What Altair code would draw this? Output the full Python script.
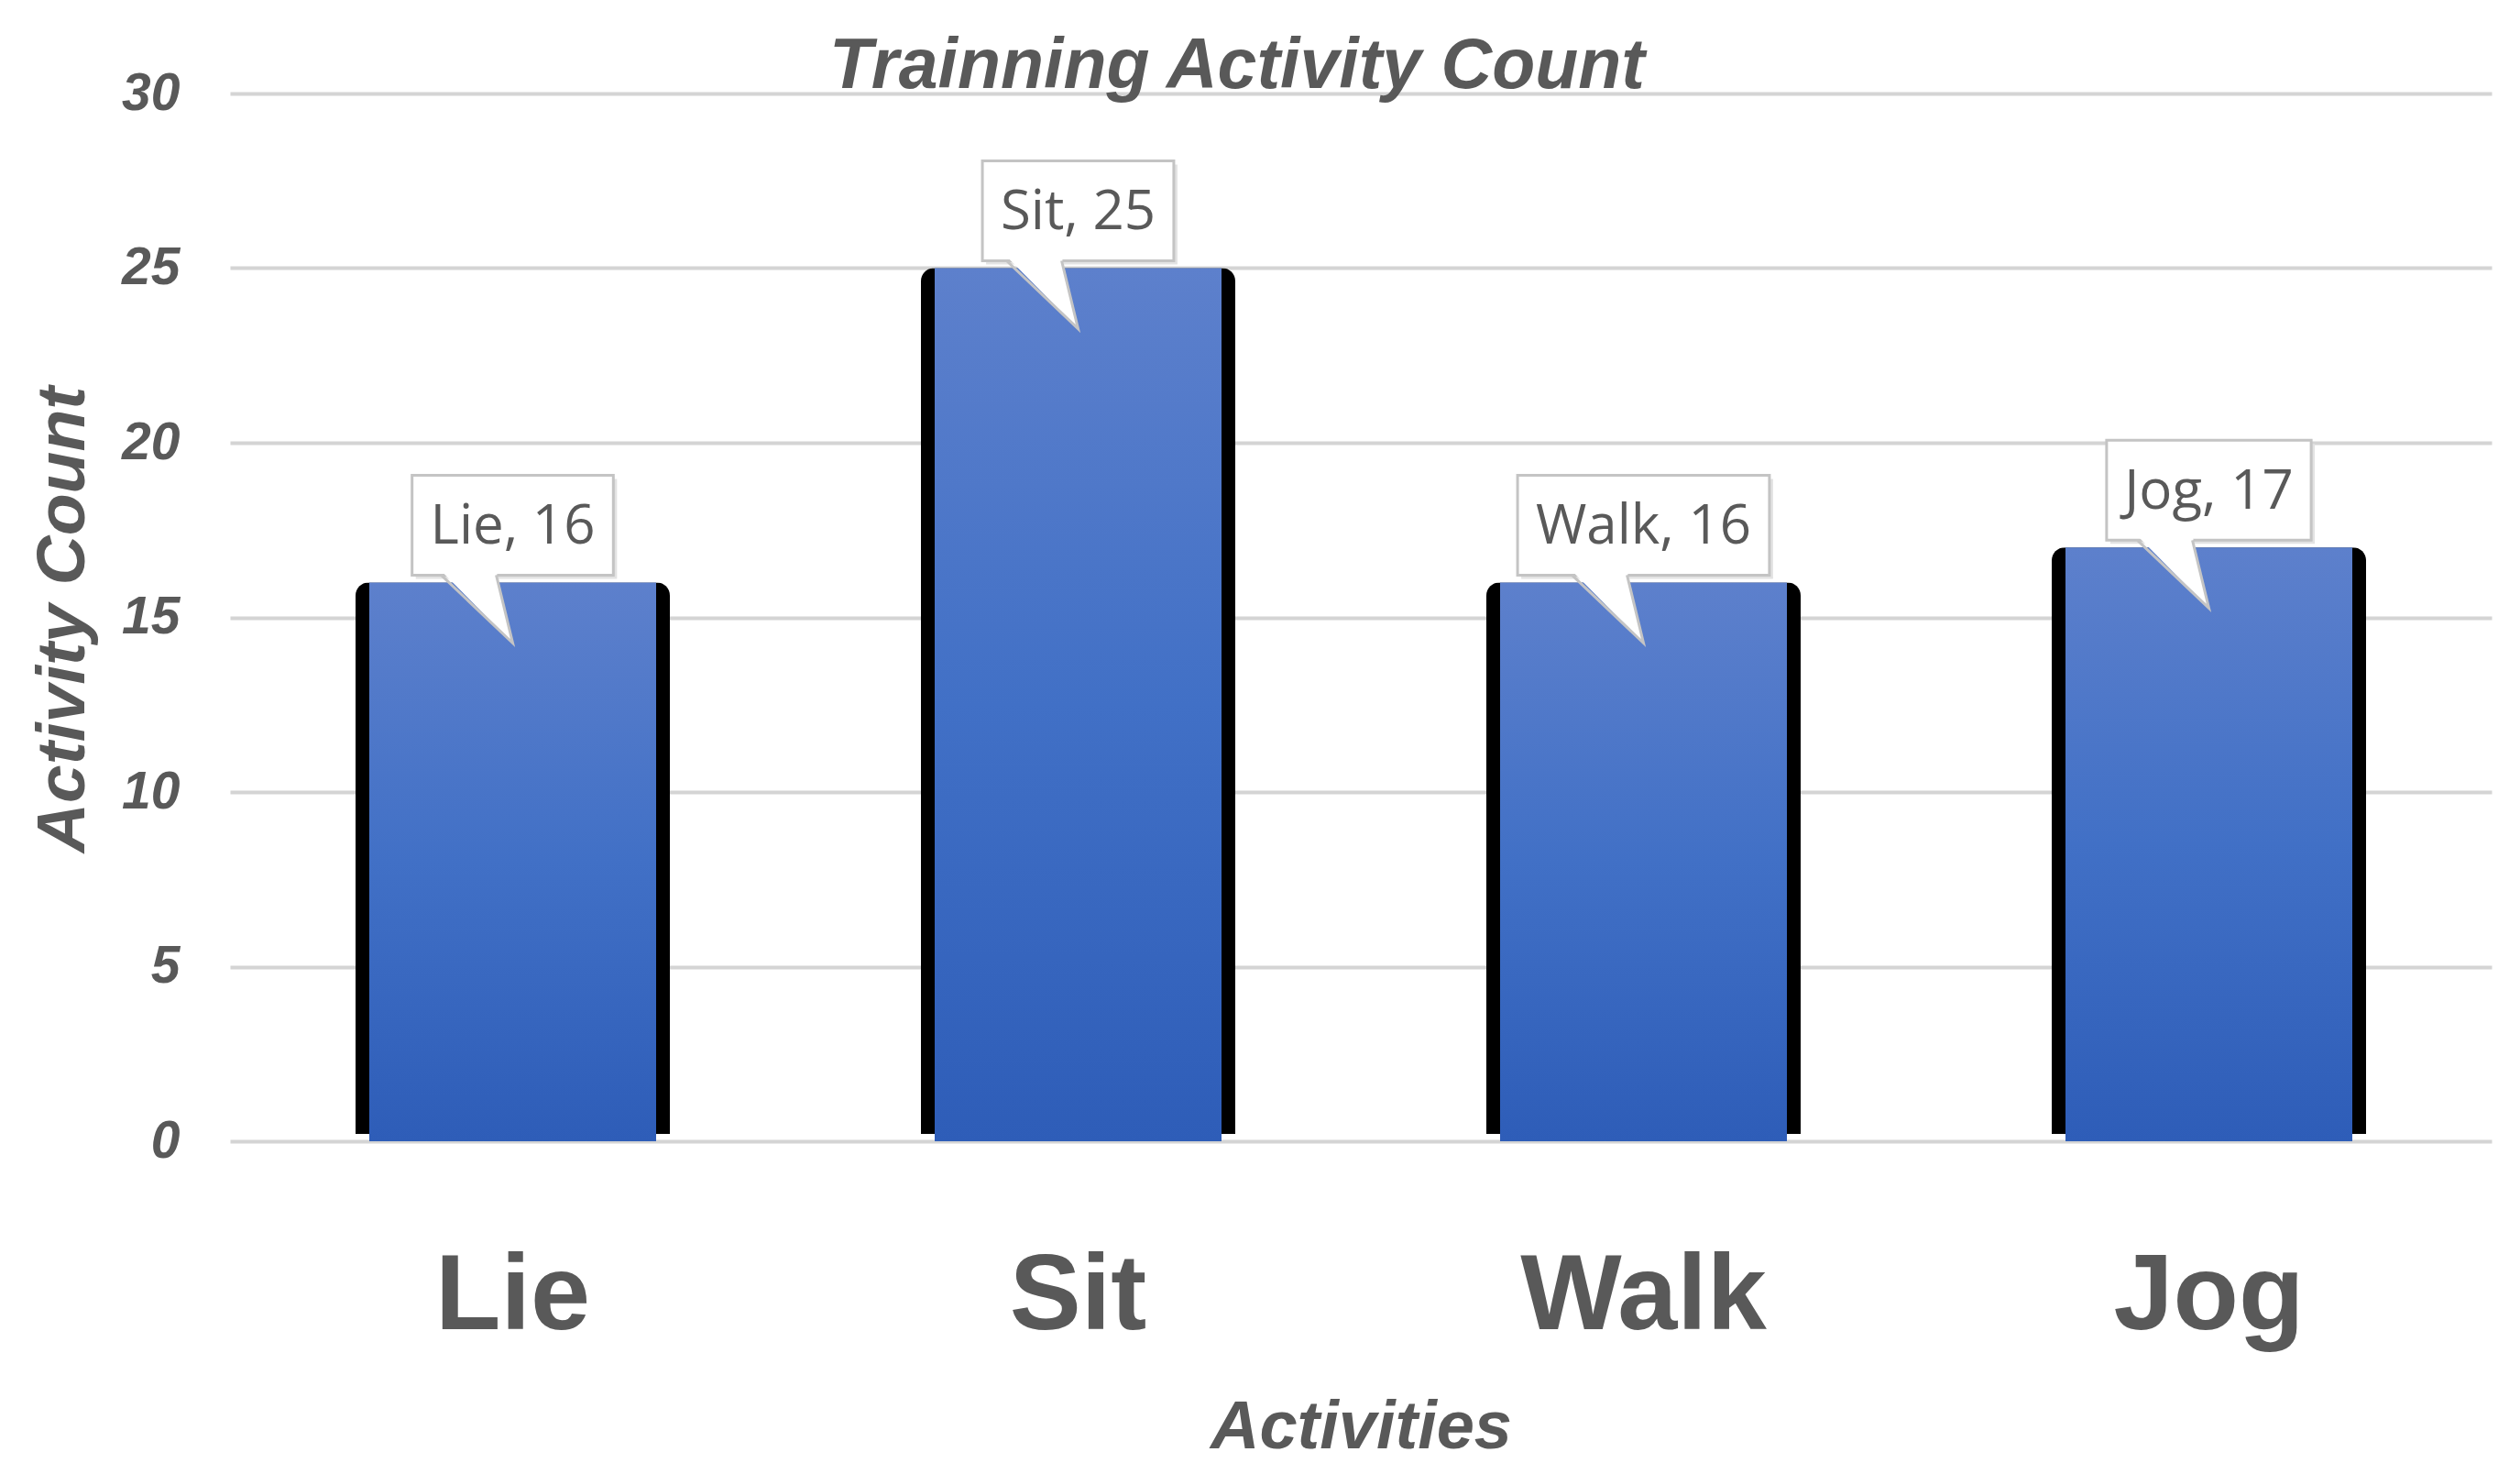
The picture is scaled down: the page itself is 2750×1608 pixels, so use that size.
import altair as alt
import pandas as pd

# ---- data ----
activities = ["Lie", "Sit", "Walk", "Jog"]
counts = [16, 25, 16, 17]
y_ticks = [0, 5, 10, 15, 20, 25, 30]

title_text = "Trainning Activity Count"
x_title = "Activities"
y_title = "Activity Count"

# approximate advance widths (em) for the callout font, used to size the callout boxes
CHAR_W = {
    "L": 0.52, "i": 0.26, "e": 0.56, ",": 0.25, " ": 0.26, "S": 0.55, "t": 0.35,
    "W": 0.93, "a": 0.56, "l": 0.26, "k": 0.51, "J": 0.27, "o": 0.60, "g": 0.53,
}
LABEL_FS = 60


def text_width(s, fs):
    return sum(CHAR_W.get(c, 0.572) for c in s) * fs


labels = [f"{a}, {c}" for a, c in zip(activities, counts)]
df = pd.DataFrame({
    "activity": activities,
    "count": counts,
    "label": labels,
    "boxw": [text_width(s, LABEL_FS) + 40 for s in labels],
})

GRAY = "#595959"
PLOT_W, PLOT_H = 2468, 1143
BAR_W = 313
BOX_GAP = 8
BOX_H = 109

x_enc = alt.X(
    "activity:N",
    sort=activities,
    scale=alt.Scale(paddingInner=0.493, paddingOuter=0.2465),
    axis=alt.Axis(
        title=x_title,
        labelAngle=0,
        ticks=False,
        tickSize=0,
        domain=False,
        labelFont="Liberation Sans",
        labelFontSize=117,
        labelFontWeight="bold",
        labelColor=GRAY,
        labelBaseline="alphabetic",
        labelPadding=204,
        labelLimit=2000,
        titleFont="Liberation Sans",
        titleFontSize=74,
        titleFontWeight="bold",
        titleFontStyle="italic",
        titleColor=GRAY,
        titleX=PLOT_W / 2,
        titleY=334,
        titleBaseline="alphabetic",
        titleAlign="center",
        titleLimit=3000,
    ),
)

y_enc = alt.Y(
    "count:Q",
    scale=alt.Scale(domain=[0, 30], nice=False),
    axis=alt.Axis(
        title=y_title,
        values=y_ticks,
        ticks=False,
        tickSize=0,
        domain=False,
        grid=True,
        gridColor="#d4d4d4",
        gridWidth=4,
        labelFont="Liberation Sans",
        labelFontSize=57,
        labelFontWeight="bold",
        labelFontStyle="italic",
        labelColor=GRAY,
        labelPadding=55,
        labelBaseline="middle",
        titleFont="Liberation Sans",
        titleFontSize=75,
        titleFontWeight="bold",
        titleFontStyle="italic",
        titleColor=GRAY,
        titleAngle=-90,
        titleX=-160,
        titleY=PLOT_H / 2 + 2,
        titleBaseline="alphabetic",
        titleAlign="center",
        titleLimit=3000,
    ),
)

base = alt.Chart(df)

shadow = base.mark_bar(
    color="black", width=BAR_W + 30, cornerRadiusTopLeft=14, cornerRadiusTopRight=14,
    yOffset=-BOX_GAP,
).encode(x=x_enc, y=y_enc)

bars = base.mark_bar(
    width=BAR_W,
    color=alt.Gradient(
        gradient="linear",
        stops=[
            alt.GradientStop(color="#5d80cc", offset=0),
            alt.GradientStop(color="#4170c6", offset=0.5),
            alt.GradientStop(color="#2e5db8", offset=1),
        ],
        x1=0, x2=0, y1=0, y2=1,
    ),
).encode(x=x_enc, y=y_enc)

box_shadow = base.mark_bar(
    fill="#e3e3e3", yOffset=-BOX_GAP + 4, y2Offset=-BOX_GAP - BOX_H + 4, xOffset=4,
).encode(x=x_enc, y=y_enc, y2="count:Q", size=alt.Size("boxw:Q", scale=None, legend=None))

boxes = base.mark_bar(
    fill="white", stroke="#c4c4c4", strokeWidth=3,
    yOffset=-BOX_GAP, y2Offset=-BOX_GAP - BOX_H,
).encode(x=x_enc, y=y_enc, y2="count:Q", size=alt.Size("boxw:Q", scale=None, legend=None))

S = 78  # half-size of the pointer symbol in px
pointer_fill = base.mark_point(
    shape="M -1 -0.06 L -0.23 -0.06 L 0 0.95 Z",
    size=(2 * S) ** 2, filled=True, fill="white", strokeWidth=0, opacity=1,
    yOffset=-BOX_GAP,
).encode(x=x_enc, y=y_enc)

pointer_line = base.mark_point(
    shape="M -1 0 L 0 0.95 L -0.23 0",
    size=(2 * S) ** 2, filled=False, stroke="#c4c4c4", strokeWidth=3, opacity=1,
    yOffset=-BOX_GAP,
).encode(x=x_enc, y=y_enc)

texts = base.mark_text(
    font="Open Sans", fontSize=LABEL_FS, color=GRAY, baseline="middle", align="center",
    yOffset=-BOX_GAP - BOX_H / 2 + 2,
).encode(x=x_enc, y=y_enc, text="label:N")

# chart title, placed slightly left of the plot centre as in the reference
title = alt.Chart(pd.DataFrame({"t": [title_text]})).mark_text(
    font="Liberation Sans", fontSize=77, fontWeight="bold", fontStyle="italic",
    color=GRAY, align="center", baseline="alphabetic",
).encode(x=alt.value(PLOT_W / 2 - 135), y=alt.value(-6), text="t:N")

chart = alt.layer(
    shadow, bars, box_shadow, boxes, pointer_fill, pointer_line, texts, title
).properties(
    width=PLOT_W,
    height=PLOT_H,
    padding={"left": 243, "top": 94, "right": 23, "bottom": 355},
    autosize=alt.AutoSizeParams(type="none"),
    background="white",
).configure_view(stroke=None)

chart.save("out.html", embed_options={"renderer": "svg", "actions": False})
